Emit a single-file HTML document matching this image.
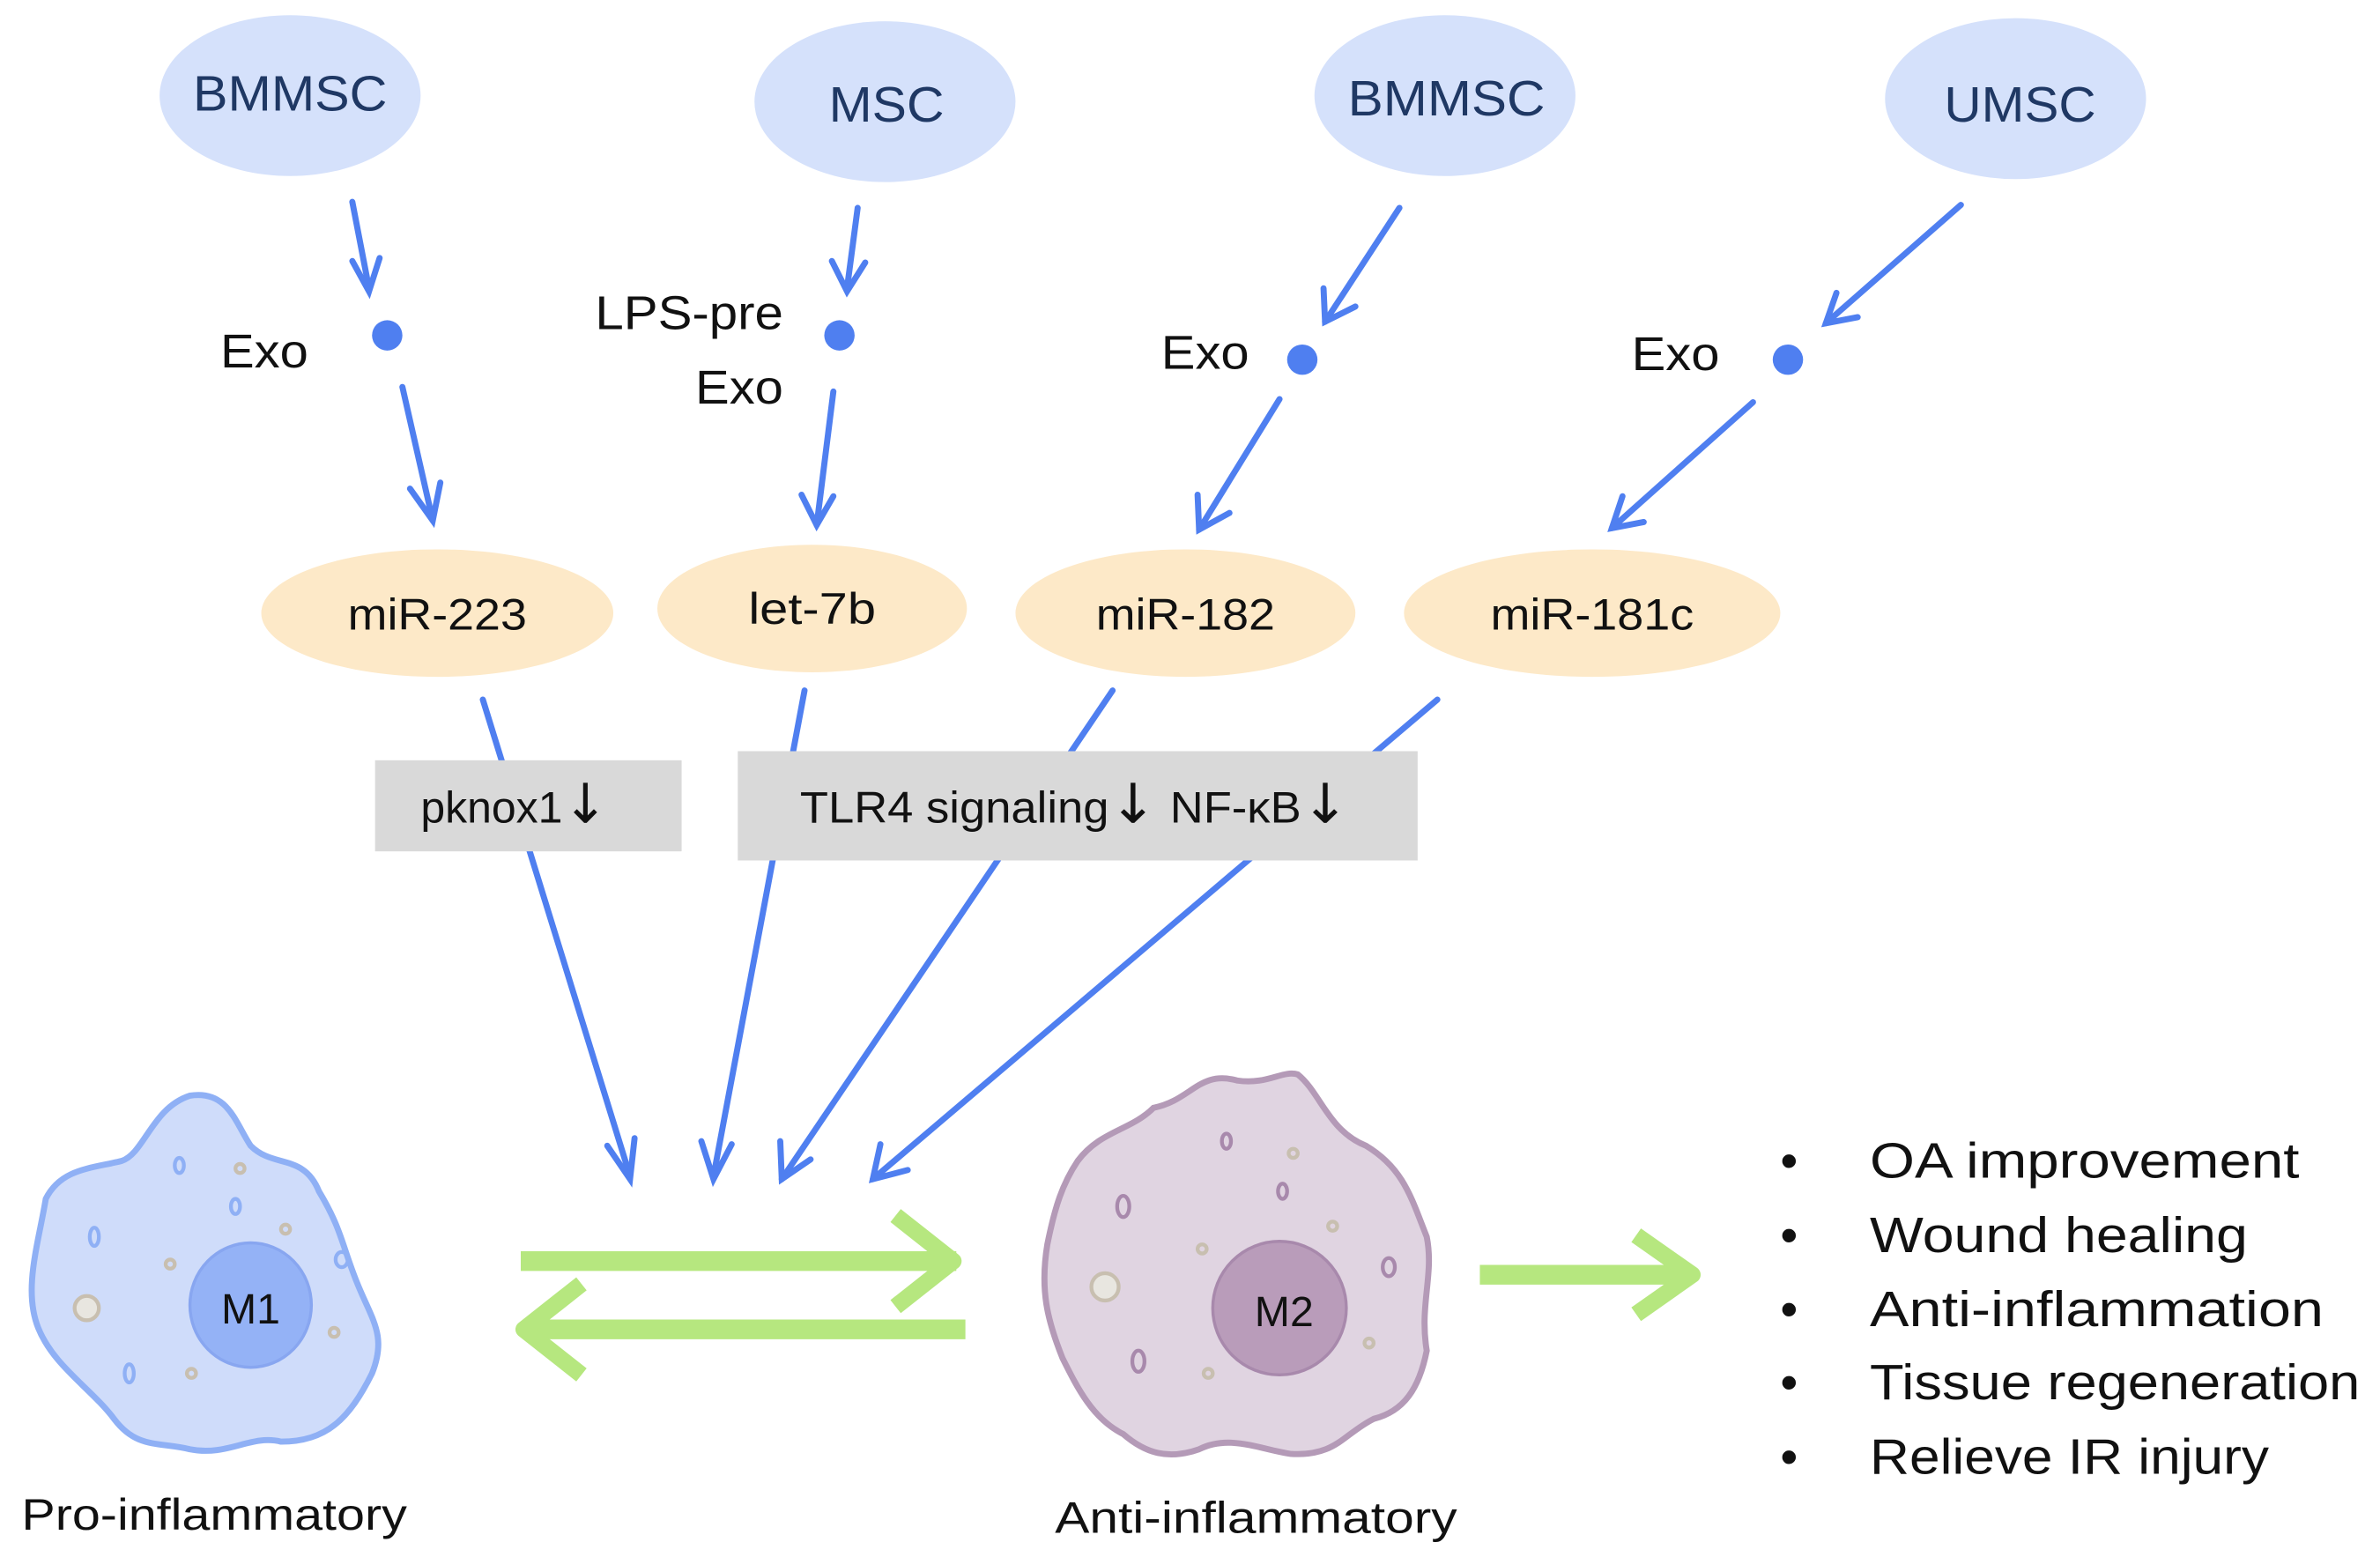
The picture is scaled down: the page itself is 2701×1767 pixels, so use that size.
<!DOCTYPE html>
<html><head><meta charset="utf-8"><style>
html,body{margin:0;padding:0;background:#fff;width:2701px;height:1767px;overflow:hidden}
svg{display:block}
text{font-family:"Liberation Sans","DejaVu Sans",sans-serif}
</style></head><body>
<svg width="2701" height="1767" viewBox="0 0 1568 1026" xmlns="http://www.w3.org/2000/svg">
<g fill="#d5e1fb">
<ellipse cx="191" cy="63" rx="86" ry="53"/>
<ellipse cx="583" cy="67" rx="86" ry="53"/>
<ellipse cx="952" cy="63" rx="86" ry="53"/>
<ellipse cx="1328" cy="65" rx="86" ry="53"/>
</g>
<g font-size="33" fill="#1f3864" text-anchor="middle">
<text x="191" y="73" textLength="128" lengthAdjust="spacingAndGlyphs">BMMSC</text>
<text x="584" y="80" textLength="76" lengthAdjust="spacingAndGlyphs">MSC</text>
<text x="953" y="76" textLength="130" lengthAdjust="spacingAndGlyphs">BMMSC</text>
<text x="1331" y="80" textLength="100" lengthAdjust="spacingAndGlyphs">UMSC</text>
</g>
<g fill="#fde9c8">
<ellipse cx="288" cy="404" rx="116" ry="42"/>
<ellipse cx="535" cy="401" rx="102" ry="42"/>
<ellipse cx="781" cy="404" rx="112" ry="42"/>
<ellipse cx="1049" cy="404" rx="124" ry="42"/>
</g>
<g font-size="29" fill="#111" text-anchor="middle">
<text x="288" y="415" textLength="118" lengthAdjust="spacingAndGlyphs">miR-223</text>
<text x="535" y="411" textLength="84" lengthAdjust="spacingAndGlyphs">let-7b</text>
<text x="781" y="415" textLength="118" lengthAdjust="spacingAndGlyphs">miR-182</text>
<text x="1049" y="415" textLength="134" lengthAdjust="spacingAndGlyphs">miR-181c</text>
</g>
<g stroke="#4f7ff0" stroke-width="4" fill="none" stroke-linecap="round">
<line x1="232" y1="133" x2="243" y2="190"/><polyline points="232,172 243,192 250,170"/>
<line x1="265" y1="255" x2="285" y2="343"/><polyline points="270,322 285,343 290,318"/>
<line x1="565" y1="137" x2="558" y2="190"/><polyline points="548,172 558,192 570,173"/>
<line x1="549" y1="258" x2="538" y2="346"/><polyline points="528,326 538,346 549,327"/>
<line x1="922" y1="137" x2="873" y2="212"/><polyline points="872,190 873,212 893,202"/>
<line x1="843" y1="263" x2="790" y2="349"/><polyline points="789,326 790,349 810,338"/>
<line x1="1292" y1="135" x2="1203" y2="213"/><polyline points="1210,193 1203,213 1224,209"/>
<line x1="1155" y1="265" x2="1062" y2="348"/><polyline points="1069,327 1062,348 1083,344"/>
<line x1="318" y1="461" x2="415" y2="775"/><polyline points="400,755 415,777 418,750"/>
<line x1="530" y1="455" x2="470" y2="775"/><polyline points="462,752 470,777 482,754"/>
<line x1="733" y1="455" x2="515" y2="777"/><polyline points="514,752 515,777 534,764"/>
<line x1="947" y1="461" x2="575" y2="777"/><polyline points="580,754 575,777 598,771"/>
</g>
<g fill="#4f7ff0">
<circle cx="255" cy="221" r="10"/><circle cx="553" cy="221" r="10"/>
<circle cx="858" cy="237" r="10"/><circle cx="1178" cy="237" r="10"/>
</g>
<g font-size="31" fill="#111">
<text x="145" y="242" textLength="58" lengthAdjust="spacingAndGlyphs">Exo</text>
<text x="392" y="217" textLength="124" lengthAdjust="spacingAndGlyphs">LPS-pre</text>
<text x="458" y="266" textLength="58" lengthAdjust="spacingAndGlyphs">Exo</text>
<text x="765" y="243" textLength="58" lengthAdjust="spacingAndGlyphs">Exo</text>
<text x="1075" y="244" textLength="58" lengthAdjust="spacingAndGlyphs">Exo</text>
</g>
<rect x="247" y="501" width="202" height="60" fill="#d9d9d9"/>
<rect x="486" y="495" width="448" height="72" fill="#d9d9d9"/>
<g font-size="29" fill="#111">
<text x="277" y="542">pknox1<tspan font-size="36" font-family="DejaVu Sans">↓</tspan></text>
<text x="527" y="542" textLength="362" lengthAdjust="spacingAndGlyphs">TLR4 signaling<tspan font-size="36" font-family="DejaVu Sans">↓</tspan> NF-κB<tspan font-size="36" font-family="DejaVu Sans">↓</tspan></text>
</g>
<g stroke="#b6e77f" fill="none" stroke-width="13">
<line x1="343" y1="831" x2="630" y2="831"/>
<polyline points="590,801 628,831 590,861" stroke-width="11" stroke-linejoin="round"/>
<line x1="636" y1="876" x2="345" y2="876"/>
<polyline points="383,846 345,876 383,906" stroke-width="11" stroke-linejoin="round"/>
<line x1="975" y1="840" x2="1115" y2="840"/>
<polyline points="1078,814 1115,840 1078,866" stroke-width="11" stroke-linejoin="round"/>
</g>
<path d="M80,765 C95,760 100,730 125,722 C150,718 155,740 165,755 C180,770 200,760 210,785 C225,810 225,820 235,845 C245,870 255,880 245,905 C230,935 215,950 185,950 C165,945 150,960 125,955 C105,950 90,955 75,935 C60,915 35,900 25,875 C15,850 25,820 30,790 C40,770 60,770 80,765 Z" fill="#cfdcfa" stroke="#8fb0f5" stroke-width="4"/>
<ellipse cx="165" cy="860" rx="40" ry="41" fill="#94b2f6" stroke="#88a6f0" stroke-width="2"/>
<text x="165" y="872" font-size="28" fill="#111" text-anchor="middle">M1</text>
<g fill="none" stroke-width="2.5">
<ellipse cx="118" cy="768" rx="3" ry="5" stroke="#8fb0f5"/><ellipse cx="155" cy="795" rx="3" ry="5" stroke="#8fb0f5"/>
<ellipse cx="62" cy="815" rx="3" ry="6" stroke="#8fb0f5"/><ellipse cx="225" cy="830" rx="4" ry="5" stroke="#8fb0f5"/>
<ellipse cx="85" cy="905" rx="3" ry="6" stroke="#8fb0f5"/><ellipse cx="57" cy="862" rx="8" ry="8" stroke="#c8bfb0" fill="#e8e6e0"/>
<circle cx="158" cy="770" r="3" stroke="#c8bfb0"/><circle cx="188" cy="810" r="3" stroke="#c8bfb0"/>
<circle cx="112" cy="833" r="3" stroke="#c8bfb0"/><circle cx="220" cy="878" r="3" stroke="#c8bfb0"/><circle cx="126" cy="905" r="3" stroke="#c8bfb0"/>
</g>
<path d="M760,730 C785,725 790,705 815,712 C835,715 845,705 855,708 C870,720 875,745 900,755 C925,770 930,790 940,815 C945,840 935,860 940,890 C935,915 925,930 905,935 C885,945 880,960 850,958 C830,955 810,945 790,955 C770,962 755,958 740,945 C720,935 710,915 700,895 C690,870 685,850 690,820 C695,795 700,780 710,765 C725,745 745,745 760,730 Z" fill="#e0d4e1" stroke="#b49ab7" stroke-width="4"/>
<ellipse cx="843" cy="862" rx="44" ry="44" fill="#b99cba" stroke="#a889ac" stroke-width="2"/>
<text x="846" y="874" font-size="28" fill="#111" text-anchor="middle">M2</text>
<g fill="none" stroke-width="2.5">
<ellipse cx="808" cy="752" rx="3" ry="5" stroke="#a889ac"/><ellipse cx="845" cy="785" rx="3" ry="5" stroke="#a889ac"/>
<ellipse cx="740" cy="795" rx="4" ry="7" stroke="#a889ac"/><ellipse cx="915" cy="835" rx="4" ry="6" stroke="#a889ac"/>
<ellipse cx="750" cy="897" rx="4" ry="7" stroke="#a889ac"/><ellipse cx="728" cy="848" rx="9" ry="9" stroke="#c8bfb0" fill="#e8e6e0"/>
<circle cx="852" cy="760" r="3" stroke="#c8bfb0"/><circle cx="878" cy="808" r="3" stroke="#c8bfb0"/>
<circle cx="792" cy="823" r="3" stroke="#c8bfb0"/><circle cx="902" cy="885" r="3" stroke="#c8bfb0"/><circle cx="796" cy="905" r="3" stroke="#c8bfb0"/>
</g>
<g font-size="29" fill="#111">
<text x="14" y="1008" textLength="254" lengthAdjust="spacingAndGlyphs">Pro-inflammatory</text>
<text x="695" y="1010" textLength="265" lengthAdjust="spacingAndGlyphs">Anti-inflammatory</text>
</g>
<g font-size="33" fill="#111">
<text x="1173" y="776">•</text><text x="1232" y="776" textLength="283" lengthAdjust="spacingAndGlyphs">OA improvement</text>
<text x="1173" y="825">•</text><text x="1232" y="825" textLength="249" lengthAdjust="spacingAndGlyphs">Wound healing</text>
<text x="1173" y="874">•</text><text x="1232" y="874" textLength="299" lengthAdjust="spacingAndGlyphs">Anti-inflammation</text>
<text x="1173" y="922">•</text><text x="1232" y="922" textLength="323" lengthAdjust="spacingAndGlyphs">Tissue regeneration</text>
<text x="1173" y="971">•</text><text x="1232" y="971" textLength="263" lengthAdjust="spacingAndGlyphs">Relieve IR injury</text>
</g>
</svg>
</body></html>
